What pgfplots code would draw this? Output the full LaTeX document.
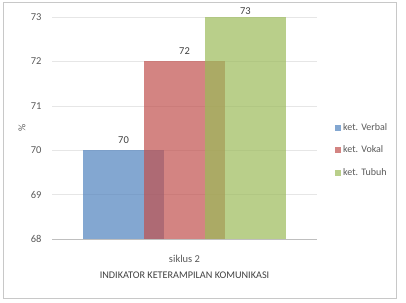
\documentclass[border=0pt]{standalone}
\usepackage{fontspec}
\setmainfont{Carlito}
\usepackage{pgfplots}
\pgfplotsset{compat=1.18}
\definecolor{cblue}{HTML}{4F81BD}
\definecolor{cred}{HTML}{C0504D}
\definecolor{cgreen}{HTML}{9BBB59}
\definecolor{txt}{HTML}{595959}
\definecolor{gridc}{HTML}{E6E6E6}
\definecolor{axc}{HTML}{BFBFBF}
\definecolor{framec}{HTML}{C8C8C8}
\begin{document}
\begin{tikzpicture}
\draw[framec,line width=0.8pt] (3pt,4pt) rectangle (396pt,300pt);
\begin{axis}[
  at={(52pt,63pt)}, anchor=south west,
  scale only axis, width=265pt, height=222pt,
  ymin=68, ymax=73, xmin=-1, xmax=1,
  ytick={68,69,70,71,72,73},
  xtick={0}, xticklabels={siklus 2},
  ymajorgrids, grid style={gridc, line width=0.6pt},
  axis x line*=bottom, axis y line*=left,
  x axis line style={axc, line width=0.8pt, -},
  y axis line style={draw=none},
  major tick length=0pt,
  tick label style={text=txt, font=\fontsize{10.5}{12}\selectfont},
  /pgf/number format/assume math mode=true,
  yticklabel style={xshift=-7pt},
  xticklabel style={yshift=-13pt, font=\fontsize{10.5}{12}\selectfont},
  ylabel={\%}, ylabel style={text=txt, font=\fontsize{10}{12}\selectfont, at={(rel axis cs:0,0.5)}, yshift=23pt},
  xlabel={INDIKATOR KETERAMPILAN KOMUNIKASI},
  xlabel style={text=black!75, font=\fontsize{10.2}{12}\selectfont, yshift=-2pt},
  nodes near coords,
  every node near coord/.append style={text=black!75, font=\fontsize{10.5}{12}\selectfont, fill opacity=1, text opacity=1, yshift=3pt},
  legend style={draw=none, fill=none, at={(1.068,0.40)}, anchor=west, row sep=10pt, font=\fontsize{10}{12}\selectfont, text=txt, inner sep=0pt},
  legend cell align=left,
  legend image code/.code={\fill[#1] (0pt,-3pt) rectangle (6pt,3pt);},
]
\addplot[ybar, bar width=81pt, bar shift=0pt, fill=cblue, draw=none, fill opacity=0.7] coordinates {(-0.46,70)};
\addlegendentry{ket. Verbal}
\addplot[ybar, bar width=81pt, bar shift=0pt, fill=cred, draw=none, fill opacity=0.7] coordinates {(0,72)};
\addlegendentry{ket. Vokal}
\addplot[ybar, bar width=81pt, bar shift=0pt, fill=cgreen, draw=none, fill opacity=0.7,
  every node near coord/.append style={yshift=-4pt}] coordinates {(0.46,73)};
\addlegendentry{ket. Tubuh}
\end{axis}
\pgfresetboundingbox
\useasboundingbox (0pt,0pt) rectangle (406pt,302pt);
\end{tikzpicture}
\end{document}
